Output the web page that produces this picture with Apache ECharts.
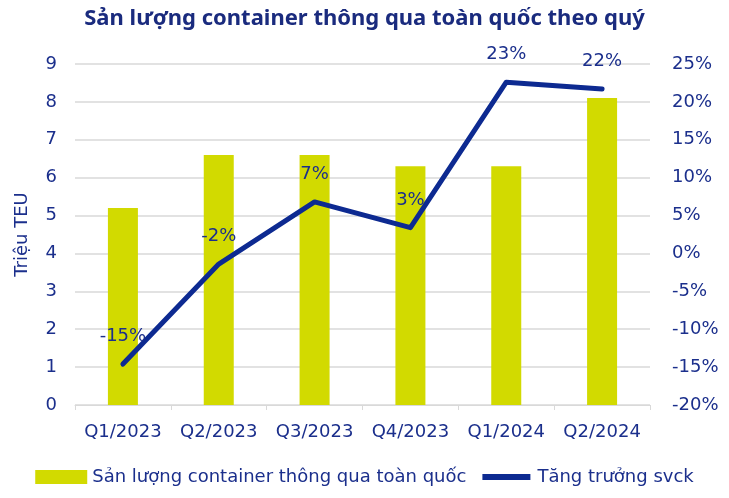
<!DOCTYPE html>
<html><head><meta charset="utf-8">
<script src="https://cdn.jsdelivr.net/npm/echarts@6/dist/echarts.min.js"></script>
<style>html,body{margin:0;padding:0;background:#fff}#c{width:729px;height:498px}</style>
</head><body><div id="c"></div>
<script>
const categories = ['Q1/2023','Q2/2023','Q3/2023','Q4/2023','Q1/2024','Q2/2024'];
const volume = [5.2, 6.6, 6.6, 6.3, 6.3, 8.1];
const growth = [-14.6, -1.4, 6.8, 3.4, 22.6, 21.7];
const growthLabels = ['-15%','-2%','7%','3%','23%','22%'];
const leftTicks = [0,1,2,3,4,5,6,7,8,9];
const rightTicks = [-20,-15,-10,-5,0,5,10,15,20,25];

const navy = '#1b2f8c';
const font = 'DejaVu Sans';
const chart = echarts.init(document.getElementById('c'));
chart.setOption({
  animation: false,
  title: {text: 'Sản lượng container thông qua toàn quốc theo quý', left: 'center', top: 3,
    textStyle: {color: '#1a2b7e', fontSize: 22, fontWeight: 'bold', fontFamily: 'Noto Sans'}},
  grid: {left: 75, right: 79, top: 64, bottom: 93},
  legend: {bottom: 7, left: 'center', itemGap: 14, itemWidth: 52, itemHeight: 14,
    textStyle: {color: navy, fontSize: 18, fontFamily: font},
    data: [{name: 'Sản lượng container thông qua toàn quốc', icon: 'rect'},
           {name: 'Tăng trưởng svck', icon: 'path://M0,0 M52,14 M2,4 L50,4 L50,10 L2,10 Z',
            itemStyle: {color: '#0d2a91'}}]},
  xAxis: {type: 'category', data: categories,
    axisLine: {lineStyle: {color: '#d9d9d9'}},
    axisTick: {show: true, lineStyle: {color: '#d9d9d9'}},
    axisLabel: {color: navy, fontSize: 18, fontFamily: font, margin: 18, interval: 0}},
  yAxis: [
    {type: 'value', min: leftTicks[0], max: leftTicks[leftTicks.length-1], interval: 1,
     name: 'Triệu TEU', nameLocation: 'middle', nameGap: 44, nameRotate: 90,
     nameTextStyle: {color: navy, fontSize: 18, fontFamily: font},
     splitLine: {lineStyle: {color: '#d9d9d9', width: 1.5}},
     axisLabel: {color: navy, fontSize: 18, fontFamily: font, margin: 18}},
    {type: 'value', min: rightTicks[0], max: rightTicks[rightTicks.length-1], interval: 5,
     splitLine: {show: false},
     axisLabel: {color: navy, fontSize: 18, fontFamily: font, margin: 22, formatter: '{value}%'}}
  ],
  series: [
    {name: 'Sản lượng container thông qua toàn quốc', type: 'bar', data: volume, barWidth: 30,
     itemStyle: {color: '#d2da00'}},
    {name: 'Tăng trưởng svck', type: 'line', yAxisIndex: 1, data: growth, symbol: 'circle', symbolSize: 1,
     showSymbol: true,
     lineStyle: {color: '#0d2a91', width: 5, cap: 'round', join: 'round'}, itemStyle: {color: '#0d2a91'},
     label: {show: true, position: 'top', distance: 18, color: navy, fontSize: 18, fontFamily: font,
       formatter: p => growthLabels[p.dataIndex]}}
  ]
});
</script></body></html>
